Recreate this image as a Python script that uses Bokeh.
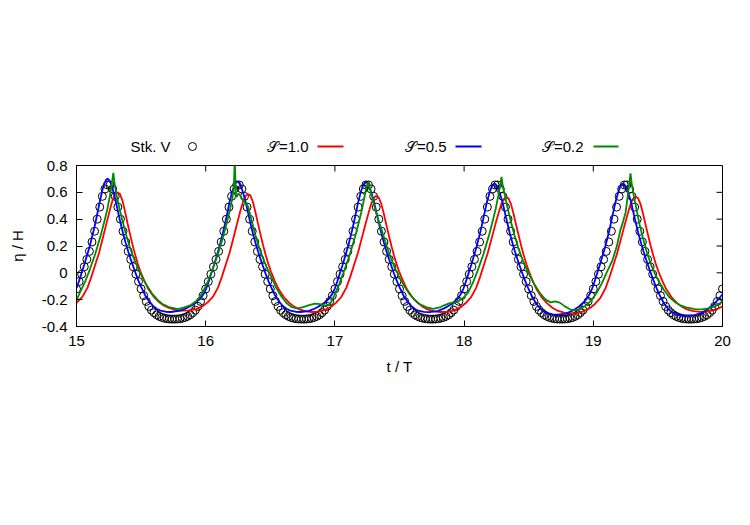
from bokeh.plotting import figure
from bokeh.layouts import column
from bokeh.models import Range1d, FixedTicker
from bokeh.embed import file_html
from bokeh.resources import INLINE
from bokeh.core.properties import value

FONT = "Liberation Sans"
FS = "15px"

# ---------------- data ----------------
x_ticks = [15, 16, 17, 18, 19, 20]
y_ticks = [-0.4, -0.2, 0, 0.2, 0.4, 0.6, 0.8]
y_tick_labels = ["-0.4", "-0.2", "0", "0.2", "0.4", "0.6", "0.8"]
legend_labels = ["Stk. V", "\U0001D4AE=1.0", "\U0001D4AE=0.5", "\U0001D4AE=0.2"]

# Stokes V theory, sampled every 0.02 T from t/T = 15 to 20
stokes_t = [round(15 + 0.02 * i, 2) for i in range(251)]
stokes_eta = [
    -0.120, -0.065, -0.010, 0.045, 0.100, 0.160, 0.230, 0.310, 0.400, 0.490, 0.570, 0.625, 0.655, 0.655, 0.625, 0.570, 0.490, 0.400, 0.310, 0.230, 0.160, 0.100, 0.045, -0.010, -0.065, -0.120, -0.170, -0.213, -0.250, -0.278, -0.297, -0.313, -0.324, -0.332, -0.338, -0.342, -0.344, -0.345, -0.345, -0.344, -0.342, -0.338, -0.332, -0.324, -0.313, -0.297, -0.278, -0.250, -0.213, -0.170,
    -0.120, -0.065, -0.010, 0.045, 0.100, 0.160, 0.230, 0.310, 0.400, 0.490, 0.570, 0.625, 0.655, 0.655, 0.625, 0.570, 0.490, 0.400, 0.310, 0.230, 0.160, 0.100, 0.045, -0.010, -0.065, -0.120, -0.170, -0.213, -0.250, -0.278, -0.297, -0.313, -0.324, -0.332, -0.338, -0.342, -0.344, -0.345, -0.345, -0.344, -0.342, -0.338, -0.332, -0.324, -0.313, -0.297, -0.278, -0.250, -0.213, -0.170,
    -0.120, -0.065, -0.010, 0.045, 0.100, 0.160, 0.230, 0.310, 0.400, 0.490, 0.570, 0.625, 0.655, 0.655, 0.625, 0.570, 0.490, 0.400, 0.310, 0.230, 0.160, 0.100, 0.045, -0.010, -0.065, -0.120, -0.170, -0.213, -0.250, -0.278, -0.297, -0.313, -0.324, -0.332, -0.338, -0.342, -0.344, -0.345, -0.345, -0.344, -0.342, -0.338, -0.332, -0.324, -0.313, -0.297, -0.278, -0.250, -0.213, -0.170,
    -0.120, -0.065, -0.010, 0.045, 0.100, 0.160, 0.230, 0.310, 0.400, 0.490, 0.570, 0.625, 0.655, 0.655, 0.625, 0.570, 0.490, 0.400, 0.310, 0.230, 0.160, 0.100, 0.045, -0.010, -0.065, -0.120, -0.170, -0.213, -0.250, -0.278, -0.297, -0.313, -0.324, -0.332, -0.338, -0.342, -0.344, -0.345, -0.345, -0.344, -0.342, -0.338, -0.332, -0.324, -0.313, -0.297, -0.278, -0.250, -0.213, -0.170,
    -0.120, -0.065, -0.010, 0.045, 0.100, 0.160, 0.230, 0.310, 0.400, 0.490, 0.570, 0.625, 0.655, 0.655, 0.625, 0.570, 0.490, 0.400, 0.310, 0.230, 0.160, 0.100, 0.045, -0.010, -0.065, -0.120, -0.170, -0.213, -0.250, -0.278, -0.297, -0.313, -0.324, -0.332, -0.338, -0.342, -0.344, -0.345, -0.345, -0.344, -0.342, -0.338, -0.332, -0.324, -0.313, -0.297, -0.278, -0.250, -0.213, -0.170,
    -0.120,
]

# S = 1.0 (red)
red_t = [
    15.000, 15.045, 15.085, 15.115, 15.145, 15.175, 15.205, 15.235, 15.260, 15.280, 15.297, 15.315, 15.335, 15.355, 15.375, 15.395, 15.415, 15.435, 15.455, 15.475, 15.495, 15.525, 15.555, 15.595, 15.635, 15.675, 15.715, 15.765, 15.815,
    15.875, 15.925, 15.975, 16.015, 16.055, 16.095, 16.125, 16.155, 16.185, 16.215, 16.245, 16.270, 16.290, 16.307, 16.325, 16.345, 16.365, 16.385, 16.405, 16.425, 16.445, 16.465, 16.485, 16.505, 16.535, 16.565, 16.605, 16.645, 16.685, 16.725, 16.775, 16.825,
    16.868, 16.918, 16.968, 17.008, 17.048, 17.088, 17.118, 17.148, 17.178, 17.208, 17.238, 17.263, 17.283, 17.300, 17.318, 17.338, 17.358, 17.378, 17.398, 17.418, 17.438, 17.458, 17.478, 17.498, 17.528, 17.558, 17.598, 17.638, 17.678, 17.718, 17.768, 17.818,
    17.873, 17.923, 17.973, 18.013, 18.053, 18.093, 18.123, 18.153, 18.183, 18.213, 18.243, 18.268, 18.288, 18.305, 18.323, 18.343, 18.363, 18.383, 18.403, 18.423, 18.443, 18.463, 18.483, 18.503, 18.533, 18.563, 18.603, 18.643, 18.683, 18.723, 18.773, 18.823,
    18.875, 18.925, 18.975, 19.015, 19.055, 19.095, 19.125, 19.155, 19.185, 19.215, 19.245, 19.270, 19.290, 19.307, 19.325, 19.345, 19.365, 19.385, 19.405, 19.425, 19.445, 19.465, 19.485, 19.505, 19.535, 19.565, 19.605, 19.645, 19.685, 19.725, 19.775, 19.825,
    19.875, 19.925, 19.975, 20.000,
]
red_eta = [
    -0.224, -0.180, -0.110, -0.030, 0.060, 0.150, 0.265, 0.380, 0.475, 0.545, 0.582, 0.600, 0.590, 0.540, 0.460, 0.370, 0.285, 0.203, 0.132, 0.066, 0.010, -0.060, -0.120, -0.175, -0.215, -0.243, -0.262, -0.276, -0.282,
    -0.280, -0.270, -0.250, -0.220, -0.180, -0.110, -0.030, 0.060, 0.150, 0.262, 0.375, 0.468, 0.533, 0.570, 0.587, 0.577, 0.530, 0.452, 0.365, 0.283, 0.202, 0.131, 0.065, 0.010, -0.062, -0.123, -0.180, -0.222, -0.252, -0.272, -0.287, -0.292,
    -0.290, -0.278, -0.255, -0.224, -0.182, -0.112, -0.032, 0.058, 0.148, 0.258, 0.368, 0.455, 0.520, 0.555, 0.573, 0.563, 0.518, 0.443, 0.358, 0.278, 0.198, 0.128, 0.063, 0.008, -0.062, -0.123, -0.180, -0.222, -0.252, -0.272, -0.287, -0.292,
    -0.291, -0.280, -0.256, -0.225, -0.183, -0.112, -0.032, 0.058, 0.148, 0.256, 0.365, 0.450, 0.513, 0.548, 0.565, 0.555, 0.512, 0.438, 0.355, 0.276, 0.197, 0.127, 0.062, 0.007, -0.065, -0.127, -0.185, -0.228, -0.260, -0.282, -0.297, -0.303,
    -0.300, -0.287, -0.262, -0.230, -0.186, -0.114, -0.033, 0.057, 0.147, 0.256, 0.366, 0.452, 0.516, 0.551, 0.568, 0.558, 0.514, 0.440, 0.357, 0.277, 0.198, 0.128, 0.063, 0.008, -0.062, -0.123, -0.180, -0.222, -0.252, -0.272, -0.285, -0.291,
    -0.290, -0.280, -0.262, -0.250,
]

# S = 0.5 (blue)
blue_t = [
    15.000, 15.020, 15.040, 15.060, 15.080, 15.100, 15.120, 15.140, 15.160, 15.180, 15.200, 15.215, 15.230, 15.240, 15.250, 15.265, 15.280, 15.300, 15.320, 15.340, 15.360, 15.380, 15.400, 15.420, 15.440, 15.460, 15.480, 15.500, 15.530, 15.560, 15.590, 15.620, 15.650, 15.690, 15.730,
    15.805, 15.855, 15.905, 15.955, 15.985, 16.005, 16.025, 16.045, 16.065, 16.085, 16.105, 16.125, 16.145, 16.165, 16.185, 16.205, 16.220, 16.235, 16.245, 16.255, 16.270, 16.285, 16.305, 16.325, 16.345, 16.365, 16.385, 16.405, 16.425, 16.445, 16.465, 16.485, 16.505, 16.535, 16.565, 16.595, 16.625, 16.655, 16.695, 16.735,
    16.800, 16.850, 16.900, 16.950, 16.980, 17.000, 17.020, 17.040, 17.060, 17.080, 17.100, 17.120, 17.140, 17.160, 17.180, 17.200, 17.215, 17.230, 17.240, 17.250, 17.265, 17.280, 17.300, 17.320, 17.340, 17.360, 17.380, 17.400, 17.420, 17.440, 17.460, 17.480, 17.500, 17.530, 17.560, 17.590, 17.620, 17.650, 17.690, 17.730,
    17.795, 17.845, 17.895, 17.945, 17.975, 17.995, 18.015, 18.035, 18.055, 18.075, 18.095, 18.115, 18.135, 18.155, 18.175, 18.195, 18.210, 18.225, 18.235, 18.245, 18.260, 18.275, 18.295, 18.315, 18.335, 18.355, 18.375, 18.395, 18.415, 18.435, 18.455, 18.475, 18.495, 18.525, 18.555, 18.585, 18.615, 18.645, 18.685, 18.725,
    18.790, 18.840, 18.890, 18.940, 18.970, 18.990, 19.010, 19.030, 19.050, 19.070, 19.090, 19.110, 19.130, 19.150, 19.170, 19.190, 19.205, 19.220, 19.230, 19.240, 19.255, 19.270, 19.290, 19.310, 19.330, 19.350, 19.370, 19.390, 19.410, 19.430, 19.450, 19.470, 19.490, 19.520, 19.550, 19.580, 19.610, 19.640, 19.680, 19.720,
    19.785, 19.835, 19.885, 19.935, 19.970, 20.000,
]
blue_eta = [
    -0.115, -0.060, 0.000, 0.060, 0.125, 0.190, 0.265, 0.345, 0.435, 0.530, 0.615, 0.665, 0.695, 0.700, 0.695, 0.670, 0.625, 0.550, 0.460, 0.375, 0.295, 0.225, 0.160, 0.100, 0.045, -0.010, -0.060, -0.105, -0.165, -0.210, -0.245, -0.268, -0.282, -0.290, -0.292,
    -0.282, -0.262, -0.235, -0.195, -0.155, -0.115, -0.060, 0.000, 0.060, 0.125, 0.190, 0.265, 0.345, 0.435, 0.530, 0.605, 0.645, 0.675, 0.680, 0.675, 0.650, 0.610, 0.545, 0.460, 0.375, 0.295, 0.225, 0.160, 0.100, 0.045, -0.010, -0.060, -0.105, -0.165, -0.210, -0.245, -0.268, -0.282, -0.290, -0.292,
    -0.284, -0.264, -0.237, -0.197, -0.157, -0.115, -0.060, 0.000, 0.060, 0.125, 0.190, 0.265, 0.345, 0.435, 0.525, 0.600, 0.645, 0.670, 0.675, 0.670, 0.645, 0.605, 0.540, 0.455, 0.372, 0.293, 0.223, 0.158, 0.098, 0.043, -0.012, -0.062, -0.107, -0.167, -0.212, -0.247, -0.270, -0.284, -0.291, -0.293,
    -0.285, -0.265, -0.238, -0.198, -0.158, -0.117, -0.062, -0.002, 0.058, 0.123, 0.188, 0.263, 0.343, 0.432, 0.520, 0.592, 0.635, 0.660, 0.665, 0.660, 0.637, 0.597, 0.535, 0.452, 0.370, 0.290, 0.220, 0.155, 0.095, 0.040, -0.015, -0.066, -0.112, -0.175, -0.225, -0.262, -0.288, -0.302, -0.310, -0.312,
    -0.304, -0.282, -0.250, -0.205, -0.162, -0.120, -0.064, -0.003, 0.057, 0.122, 0.187, 0.262, 0.342, 0.432, 0.520, 0.592, 0.635, 0.660, 0.665, 0.660, 0.637, 0.597, 0.535, 0.452, 0.370, 0.290, 0.220, 0.155, 0.095, 0.040, -0.015, -0.068, -0.115, -0.180, -0.232, -0.270, -0.295, -0.310, -0.318, -0.320,
    -0.315, -0.300, -0.272, -0.232, -0.195, -0.160,
]

# S = 0.2 (green)
green_t = [
    15.000, 15.025, 15.065, 15.105, 15.145, 15.185, 15.215, 15.240, 15.260, 15.273, 15.285, 15.295, 15.310, 15.330, 15.355, 15.385, 15.415, 15.445, 15.475, 15.505, 15.545, 15.585, 15.625, 15.665, 15.715, 15.785,
    15.835, 15.885, 15.935, 15.975, 16.015, 16.055, 16.095, 16.135, 16.165, 16.190, 16.207, 16.218, 16.225, 16.232, 16.240, 16.252, 16.265, 16.285, 16.310, 16.330, 16.355, 16.385, 16.415, 16.445, 16.475, 16.505, 16.545, 16.585, 16.625, 16.665, 16.710, 16.755, 16.800, 16.845, 16.885, 16.925,
    16.960, 16.995, 17.035, 17.075, 17.115, 17.155, 17.185, 17.210, 17.230, 17.243, 17.255, 17.265, 17.280, 17.300, 17.320, 17.345, 17.375, 17.405, 17.435, 17.465, 17.495, 17.535, 17.575, 17.615, 17.655, 17.705, 17.760, 17.810, 17.850, 17.890, 17.930, 17.965,
    17.995, 18.030, 18.070, 18.110, 18.150, 18.190, 18.220, 18.245, 18.265, 18.278, 18.290, 18.300, 18.315, 18.335, 18.360, 18.390, 18.420, 18.450, 18.480, 18.510, 18.550, 18.590, 18.630, 18.670, 18.705, 18.740, 18.780, 18.820, 18.860, 18.900,
    18.940, 18.985, 19.025, 19.065, 19.105, 19.145, 19.180, 19.210, 19.230, 19.250, 19.265, 19.277, 19.288, 19.298, 19.313, 19.333, 19.358, 19.388, 19.418, 19.448, 19.478, 19.508, 19.548, 19.588, 19.628, 19.668, 19.718, 19.788, 19.840, 19.890, 19.940, 20.000,
]
green_eta = [
    -0.205, -0.150, -0.070, 0.030, 0.140, 0.270, 0.380, 0.480, 0.580, 0.660, 0.745, 0.665, 0.580, 0.490, 0.390, 0.280, 0.185, 0.105, 0.035, -0.025, -0.095, -0.155, -0.200, -0.232, -0.255, -0.270,
    -0.258, -0.240, -0.205, -0.150, -0.070, 0.030, 0.140, 0.270, 0.380, 0.480, 0.560, 0.640, 0.860, 0.600, 0.565, 0.590, 0.580, 0.545, 0.520, 0.490, 0.390, 0.280, 0.185, 0.105, 0.035, -0.025, -0.110, -0.175, -0.225, -0.255, -0.265, -0.255, -0.240, -0.230, -0.234, -0.245,
    -0.238, -0.170, -0.080, 0.025, 0.135, 0.265, 0.375, 0.475, 0.570, 0.635, 0.675, 0.650, 0.595, 0.520, 0.445, 0.370, 0.280, 0.185, 0.105, 0.035, -0.025, -0.095, -0.155, -0.200, -0.232, -0.255, -0.268, -0.258, -0.240, -0.226, -0.220, -0.205,
    -0.185, -0.150, -0.070, 0.030, 0.140, 0.270, 0.380, 0.480, 0.575, 0.650, 0.715, 0.640, 0.580, 0.490, 0.390, 0.280, 0.185, 0.105, 0.035, -0.025, -0.095, -0.155, -0.200, -0.220, -0.212, -0.222, -0.250, -0.272, -0.280, -0.268,
    -0.245, -0.205, -0.150, -0.080, 0.005, 0.085, 0.190, 0.320, 0.380, 0.450, 0.560, 0.660, 0.742, 0.660, 0.575, 0.480, 0.360, 0.245, 0.140, 0.060, -0.010, -0.065, -0.130, -0.180, -0.215, -0.240, -0.258, -0.270, -0.272, -0.265, -0.250, -0.215,
]

RED = "#ff0000"
BLUE = "#0000ff"
GREEN = "#008a00"
LW = 1.8

# ---------------- legend strip (gnuplot-style key above the plot) ----------------
# the column aligns this strip's frame with the main plot's frame (pixels 76..722),
# so the x range below is expressed in page pixels
leg = figure(width=750, height=155, x_range=Range1d(76, 722), y_range=Range1d(0, 155),
             x_axis_type=None, y_axis_type=None, output_backend="svg",
             toolbar_location=None, min_border=0)
leg.grid.visible = False
leg.outline_line_color = None
LEG_Y = 9
leg.text(x=[170, 308, 446, 583], y=[LEG_Y] * 4, text=legend_labels,
         text_align="right", text_baseline="middle",
         text_font=value(FONT), text_font_size=FS, text_color="black")
leg.scatter(x=[192], y=[LEG_Y], marker="circle", size=8, fill_color=None,
            line_color="black", line_width=1)
leg.segment(x0=[317, 455, 593], y0=[LEG_Y] * 3, x1=[343, 481, 618], y1=[LEG_Y] * 3,
            line_color=[RED, BLUE, GREEN], line_width=LW)

# ---------------- main plot ----------------
X0, X1, Y0, Y1 = 15, 20, -0.4, 0.8
p = figure(width=750, height=370, x_range=Range1d(X0, X1), y_range=Range1d(Y0, Y1),
           output_backend="svg", toolbar_location=None,
           min_border_left=76, min_border_right=28, min_border_top=10, min_border_bottom=199,
           x_axis_label="t / T", y_axis_label="\u03b7 / H")
p.grid.visible = False
p.outline_line_color = "black"
p.outline_line_width = 1

p.xaxis.ticker = FixedTicker(ticks=x_ticks)
p.yaxis.ticker = FixedTicker(ticks=y_ticks)
p.yaxis.major_label_overrides = dict(zip(y_ticks, y_tick_labels))

for ax in list(p.xaxis) + list(p.yaxis):
    ax.major_tick_in = 6
    ax.major_tick_out = 0
    ax.minor_tick_in = 0
    ax.minor_tick_out = 0
    ax.axis_line_color = "black"
    ax.major_tick_line_color = "black"
    ax.major_label_text_font = FONT
    ax.major_label_text_font_size = FS
    ax.major_label_text_color = "black"
    ax.axis_label_text_font = FONT
    ax.axis_label_text_font_size = FS
    ax.axis_label_text_font_style = "normal"
    ax.axis_label_text_color = "black"

p.xaxis.major_label_standoff = 9
p.xaxis.axis_label_standoff = 9
p.yaxis.major_label_standoff = 9
p.yaxis.axis_label_standoff = 13

# mirrored inward ticks on the top and right borders (gnuplot "mirror")
TICK_DY = 0.045   # ~6 px
TICK_DX = 0.046   # ~6 px
inner_x = x_ticks[1:-1]
inner_y = y_ticks[1:-1]
p.segment(x0=inner_x, y0=[Y1] * len(inner_x), x1=inner_x, y1=[Y1 - TICK_DY] * len(inner_x),
          line_color="black", line_width=1)
p.segment(x0=[X1] * len(inner_y), y0=inner_y, x1=[X1 - TICK_DX] * len(inner_y), y1=inner_y,
          line_color="black", line_width=1)

p.scatter(stokes_t, stokes_eta, marker="circle", size=8, fill_color=None,
          line_color="black", line_width=1)
p.line(red_t, red_eta, line_color=RED, line_width=LW)
p.line(blue_t, blue_eta, line_color=BLUE, line_width=LW)
p.line(green_t, green_eta, line_color=GREEN, line_width=LW)

layout = column(leg, p, spacing=0)
open("out.html", "w").write(file_html(layout, INLINE))
